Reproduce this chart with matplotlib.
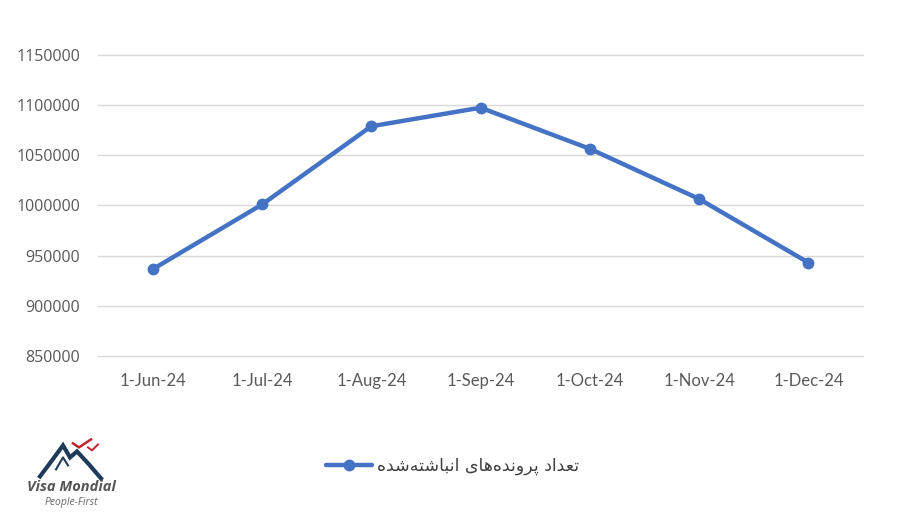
import matplotlib
matplotlib.use('Agg')
import matplotlib.pyplot as plt

# data
months = ['1-Jun-24', '1-Jul-24', '1-Aug-24', '1-Sep-24', '1-Oct-24', '1-Nov-24', '1-Dec-24']
backlog = [936500, 1001000, 1079000, 1097500, 1056500, 1006500, 943000]
y_ticks = [850000, 900000, 950000, 1000000, 1050000, 1100000, 1150000]
series_name = 'تعداد پرونده‌های انباشته‌شده'

# matplotlib has no arabic shaping, so pick presentation forms by hand
FORMS = {
    'ت': ('\uFE95', '\uFE96', '\uFE97', '\uFE98'),
    'ع': ('\uFEC9', '\uFECA', '\uFECB', '\uFECC'),
    'د': ('\uFEA9', '\uFEAA', '\uFEA9', '\uFEAA'),
    'ا': ('\uFE8D', '\uFE8E', '\uFE8D', '\uFE8E'),
    'پ': ('\uFB56', '\uFB57', '\uFB58', '\uFB59'),
    'ر': ('\uFEAD', '\uFEAE', '\uFEAD', '\uFEAE'),
    'و': ('\uFEED', '\uFEEE', '\uFEED', '\uFEEE'),
    'ن': ('\uFEE5', '\uFEE6', '\uFEE7', '\uFEE8'),
    'ه': ('\uFEE9', '\uFEEA', '\uFEEB', '\uFEEC'),
    'ی': ('\uFBFC', '\uFBFD', '\uFBFE', '\uFBFF'),
    'ب': ('\uFE8F', '\uFE90', '\uFE91', '\uFE92'),
    'ش': ('\uFEB5', '\uFEB6', '\uFEB7', '\uFEB8'),
}
RIGHT_ONLY = set('داروزژذ')


def shape(text):
    out = []
    for i, c in enumerate(text):
        if c == '\u200c':
            continue
        if c not in FORMS:
            out.append(c)
            continue
        prev = text[i - 1] if i > 0 else None
        nxt = text[i + 1] if i + 1 < len(text) else None
        join_prev = prev in FORMS and prev not in RIGHT_ONLY
        join_next = nxt in FORMS and c not in RIGHT_ONLY
        iso, fin, ini, med = FORMS[c]
        if join_prev and join_next:
            out.append(med)
        elif join_prev:
            out.append(fin)
        elif join_next:
            out.append(ini)
        else:
            out.append(iso)
    return ''.join(reversed(out))


fig = plt.figure(figsize=(9, 5.28), dpi=100)
ax = fig.add_axes([0.109, 0.3258, 0.850, 0.570])

x = list(range(len(months)))
ax.plot(x, backlog, color='#4472C4', linewidth=3.2, marker='o', markersize=7.5,
        solid_capstyle='round', label=shape(series_name), zorder=3)

ax.set_xlim(-0.5, len(months) - 0.5)
ax.set_ylim(850000, 1150000)
ax.set_yticks(y_ticks)
ax.set_yticklabels([str(v) for v in y_ticks], fontfamily='Open Sans', fontsize=11.5, color='#595959')
ax.set_xticks(x)
ax.set_xticklabels(months, fontfamily='Lato', fontsize=12, color='#595959')
ax.tick_params(length=0, pad=12)
ax.tick_params(axis='y', pad=13)
ax.grid(axis='y', color='#d9d9d9', linewidth=1)
for gl in ax.get_ygridlines():
    gl.set_clip_on(False)
for s in ax.spines.values():
    s.set_visible(False)

leg = fig.legend(loc='center', bbox_to_anchor=(0.503, 0.117), frameon=False,
                 handlelength=2.6, handletextpad=0.3,
                 prop={'family': 'DejaVu Sans', 'size': 12.5})
for t in leg.get_texts():
    t.set_color('#404040')

# logo, bottom left (data units are pixels from the top of this box)
lax = fig.add_axes([0.0, 0.0, 0.16, 0.2])
lax.set_xlim(0, 144)
lax.set_ylim(105.6, 0)
lax.axis('off')
lax.plot([40, 52, 63, 70, 77, 89, 101], [54, 38, 23, 35, 29, 42, 56], color='#1f3b5a', linewidth=3.0,
         solid_joinstyle='miter')
lax.plot([56, 63, 68], [47, 35, 43], color='#1f3b5a', linewidth=1.5)
lax.plot([73, 79, 91], [21, 25, 17], color='#c0272d', linewidth=1.8)
lax.plot([88, 92, 98], [25, 28, 22], color='#c0272d', linewidth=1.4)
lax.text(71, 65, 'Visa Mondial', ha='center', va='center', fontsize=10.5, fontweight='bold',
         fontstyle='italic', color='#555555', fontfamily='Open Sans')
lax.text(71, 80, 'People-First', ha='center', va='center', fontsize=7.5,
         fontstyle='italic', color='#666666', fontfamily='Open Sans')

fig.savefig('out.png', dpi=100, facecolor='white')
